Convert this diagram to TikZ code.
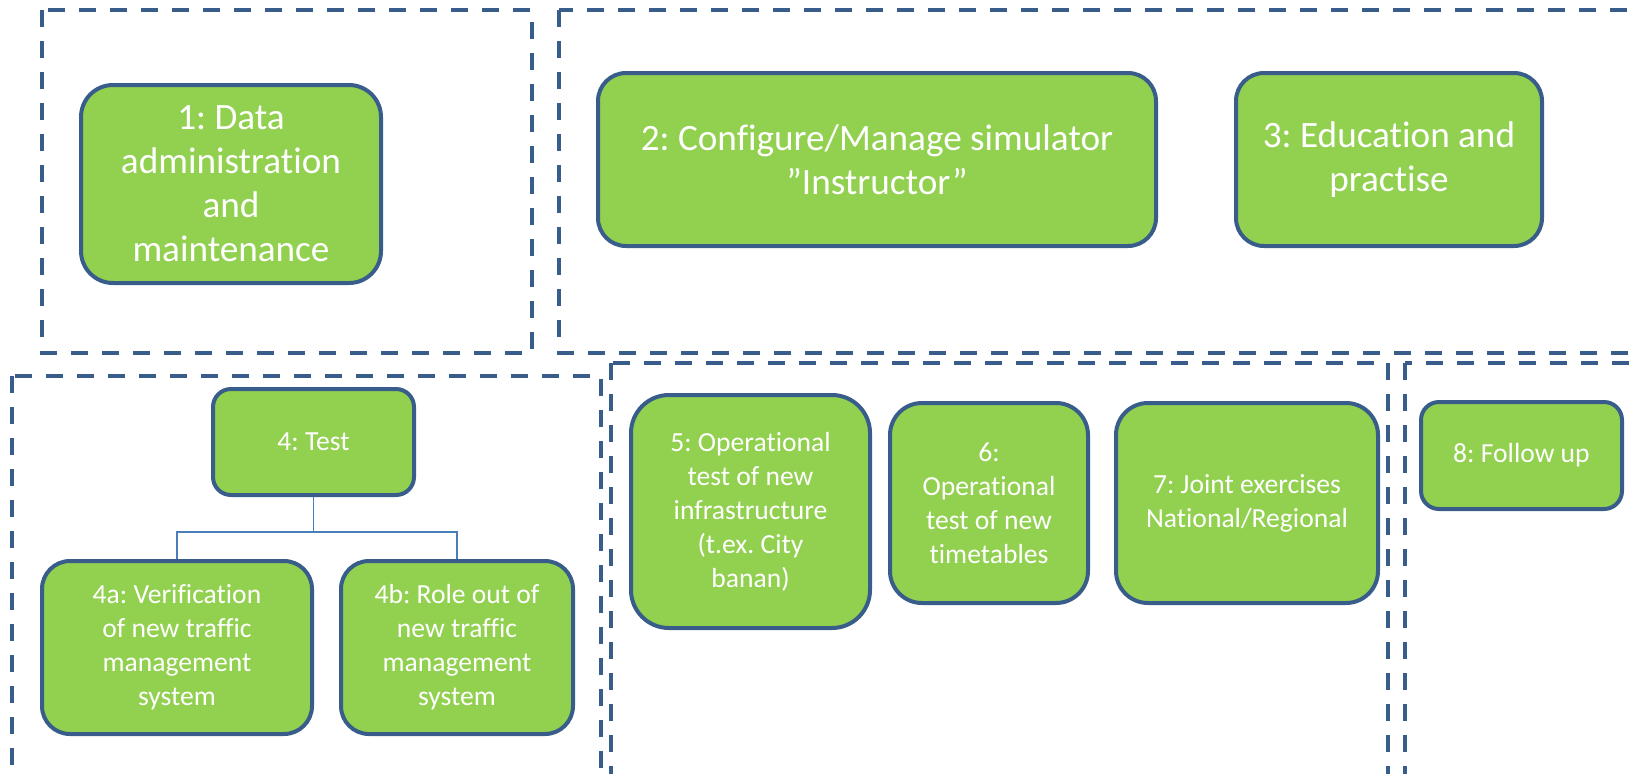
\documentclass[tikz,border=0pt]{standalone}
\usepackage{fontspec}
\setmainfont{Carlito}[Ligatures=NoCommon]
\usepackage{tikz}
\usetikzlibrary{positioning}
\usepackage{xcolor}
\definecolor{taskgreen}{HTML}{92D050}
\definecolor{taskblue}{HTML}{385D8A}
\definecolor{linkblue}{HTML}{4A7EBB}
\frenchspacing

\begin{document}
\begin{tikzpicture}[x=0.5pt,y=-0.5pt,
    task/.style={draw=taskblue,fill=taskgreen,line width=2pt,text=white,align=center,inner sep=2pt,rounded corners=#1},
    task/.default=10pt,
    big/.style={font=\fontsize{18.6}{22}\selectfont},
    small/.style={font=\fontsize{13.8}{17}\selectfont},
    group/.style={draw=taskblue,line width=2.2pt,dash pattern=on 8.5pt off 7pt},
    link/.style={draw=linkblue,line width=0.8pt}]
    \path[use as bounding box] (0,0) rectangle (1630,773);
    \clip (0,0) rectangle (1630,773);
    % dashed groups
    \draw[group] (42,10) rectangle (532,353);
    \draw[group] (559,10) rectangle (1680,353);
    \draw[group] (12,376) rectangle (601,820);
    \draw[group] (611,363) rectangle (1388,820);
    \draw[group] (1405,363) rectangle (1680,820);
    % top row
    \node[task=16pt,big,minimum width=150pt,minimum height=99pt] (n1) at (231,184) {1: Data\\administration\\and\\maintenance};
    \node[task=14pt,big,minimum width=279pt,minimum height=86.5pt] (n2) at (877,159.5) {2: Configure/Manage simulator\\”Instructor”};
    \node[task=14pt,big,minimum width=153pt,minimum height=86.5pt] (n3) [right=38pt of n2] {3: Education and\\practise};
    % test
    \node[task=9pt,small,minimum width=100.5pt,minimum height=53pt] (n4) at (313.5,442) {4: Test};
    \node[task=14pt,small,minimum width=135pt,minimum height=86.5pt] (n4a) at (177,647.5) {4a: Verification\\of new traffic\\management\\system};
    \node[task=14pt,small,minimum width=116pt,minimum height=86.5pt] (n4b) [right=12.5pt of n4a] {4b: Role out of\\new traffic\\management\\system};
    \draw[link] (n4.south) -- ++(0,35) -| (n4a.north);
    \draw[link] (n4.south) -- ++(0,35) -| (n4b.north);
    % operational tests
    \node[task=19pt,small,minimum width=119.5pt,minimum height=116.5pt] (n5) at (750.5,511.5) {5: Operational\\test of new\\infrastructure\\(t.ex. City\\banan)};
    \node[task=16pt,small,minimum width=99pt,minimum height=100pt] (n6) at (989,503) {6:\\Operational\\test of new\\timetables};
    \node[task=16pt,small,minimum width=131pt,minimum height=100pt] (n7) [right=12pt of n6] {7: Joint exercises\\National/Regional};
    \node[task=9pt,small,minimum width=100.5pt,minimum height=53.5pt] (n8) at (1521.5,455.5) {8: Follow up};
\end{tikzpicture}
\end{document}
